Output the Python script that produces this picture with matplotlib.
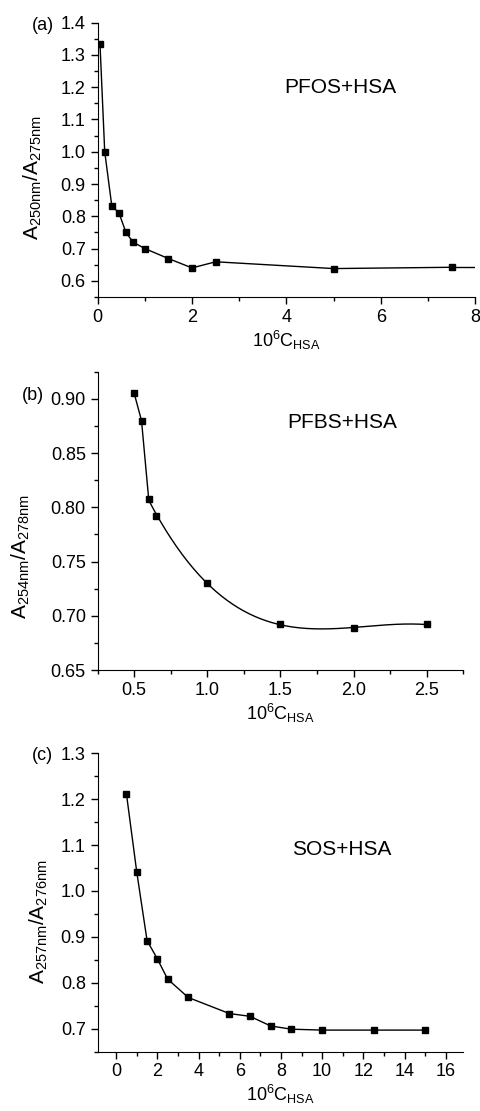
import numpy as np
import matplotlib
matplotlib.use("Agg")
import matplotlib.pyplot as plt
from matplotlib.ticker import MultipleLocator

plt.rcParams['font.family'] = ['Liberation Sans', 'DejaVu Sans']
plt.rcParams['mathtext.fontset'] = 'custom'
plt.rcParams['mathtext.rm'] = 'Liberation Sans'
plt.rcParams['mathtext.it'] = 'Liberation Sans'
plt.rcParams['mathtext.default'] = 'regular'

# (a) PFOS + HSA
pfos_c = [0.05, 0.15, 0.3, 0.45, 0.6, 0.75, 1.0, 1.5, 2.0, 2.5, 5.0, 7.5]
pfos_ratio = [1.333, 1.0, 0.832, 0.811, 0.75, 0.72, 0.70, 0.669, 0.64, 0.659, 0.638, 0.642]

# (b) PFBS + HSA
pfbs_c = [0.5, 0.55, 0.6, 0.65, 1.0, 1.5, 2.0, 2.5]
pfbs_ratio = [0.905, 0.880, 0.808, 0.792, 0.730, 0.692, 0.689, 0.692]

# (c) SOS + HSA
sos_c = [0.5, 1.0, 1.5, 2.0, 2.5, 3.5, 5.5, 6.5, 7.5, 8.5, 10.0, 12.5, 15.0]
sos_ratio = [1.211, 1.041, 0.892, 0.852, 0.808, 0.768, 0.733, 0.727, 0.706, 0.699, 0.697, 0.697, 0.697]

xlab = r'10$^{6}$C$_{HSA}$'
fs = 13
yfs = 15

fig = plt.figure(figsize=(4.81, 11.11), dpi=100)
ax_a = fig.add_axes([0.203, 0.7327, 0.785, 0.2469])
ax_b = fig.add_axes([0.203, 0.3969, 0.760, 0.2685])
ax_c = fig.add_axes([0.203, 0.0534, 0.760, 0.2686])


def style(ax):
    for s in ['top', 'right']:
        ax.spines[s].set_visible(False)
    ax.tick_params(which='major', direction='out', length=5, width=1, labelsize=fs)
    ax.tick_params(which='minor', direction='out', length=3, width=1)


# panel a
ax_a.plot(pfos_c, pfos_ratio, color='black', lw=1, marker='s', ms=5)
ax_a.plot([pfos_c[-1], 8], [pfos_ratio[-1], pfos_ratio[-1]], color='black', lw=1)
ax_a.set_xlim(0, 8)
ax_a.set_ylim(0.55, 1.4)
ax_a.xaxis.set_major_locator(MultipleLocator(2))
ax_a.xaxis.set_minor_locator(MultipleLocator(1))
ax_a.set_yticks(np.arange(0.6, 1.41, 0.1))
ax_a.yaxis.set_minor_locator(MultipleLocator(0.05))
ax_a.yaxis.set_major_formatter(plt.FormatStrFormatter('%.1f'))
ax_a.set_xlabel(xlab, fontsize=fs, labelpad=2)
ax_a.set_ylabel(r'A$_{250nm}$/A$_{275nm}$', fontsize=yfs)
ax_a.yaxis.set_label_coords(-0.142, 0.434)
ax_a.text(0.644, 0.762, 'PFOS+HSA', transform=ax_a.transAxes, fontsize=15, ha='center', va='center')
style(ax_a)

# panel b: straight steps at low conc, smooth fit beyond
pb_x = np.array(pfbs_c)
pb_y = np.array(pfbs_ratio)
sel = pb_x >= 0.6
coef = np.polyfit(pb_x[sel], pb_y[sel], 3)
xs = np.linspace(0.6, 2.5, 200)
curve_x = np.concatenate([pb_x[:2], xs])
curve_y = np.concatenate([pb_y[:2], np.polyval(coef, xs)])
ax_b.plot(curve_x, curve_y, color='black', lw=1)
ax_b.plot(pfbs_c, pfbs_ratio, ls='none', color='black', marker='s', ms=4)
ax_b.set_xlim(0.25, 2.75)
ax_b.set_ylim(0.65, 0.925)
ax_b.set_xticks([0.5, 1.0, 1.5, 2.0, 2.5])
ax_b.xaxis.set_minor_locator(MultipleLocator(0.25))
ax_b.set_yticks([0.65, 0.70, 0.75, 0.80, 0.85, 0.90])
ax_b.yaxis.set_minor_locator(MultipleLocator(0.025))
ax_b.yaxis.set_major_formatter(plt.FormatStrFormatter('%.2f'))
ax_b.set_xlabel(xlab, fontsize=fs, labelpad=2)
ax_b.set_ylabel(r'A$_{254nm}$/A$_{278nm}$', fontsize=yfs)
ax_b.yaxis.set_label_coords(-0.18, 0.379)
ax_b.text(0.668, 0.829, 'PFBS+HSA', transform=ax_b.transAxes, fontsize=15, ha='center', va='center')
style(ax_b)

# panel c
ax_c.plot(sos_c, sos_ratio, color='black', lw=1, marker='s', ms=4)
ax_c.set_xlim(-0.9, 16.85)
ax_c.set_ylim(0.65, 1.3)
ax_c.set_xticks(np.arange(0, 17, 2))
ax_c.xaxis.set_minor_locator(MultipleLocator(1))
ax_c.set_yticks(np.arange(0.7, 1.31, 0.1))
ax_c.yaxis.set_minor_locator(MultipleLocator(0.05))
ax_c.yaxis.set_major_formatter(plt.FormatStrFormatter('%.1f'))
ax_c.set_xlabel(xlab, fontsize=fs, labelpad=2)
ax_c.set_ylabel(r'A$_{257nm}$/A$_{276nm}$', fontsize=yfs)
ax_c.yaxis.set_label_coords(-0.13, 0.435)
ax_c.text(0.668, 0.679, 'SOS+HSA', transform=ax_c.transAxes, fontsize=15, ha='center', va='center')
style(ax_c)

fig.text(43 / 481, 1 - 25 / 1111, '(a)', fontsize=fs, ha='center', va='center')
fig.text(33 / 481, 1 - 395 / 1111, '(b)', fontsize=fs, ha='center', va='center')
fig.text(42 / 481, 1 - 755 / 1111, '(c)', fontsize=fs, ha='center', va='center')

fig.savefig('out.png', dpi=100)
